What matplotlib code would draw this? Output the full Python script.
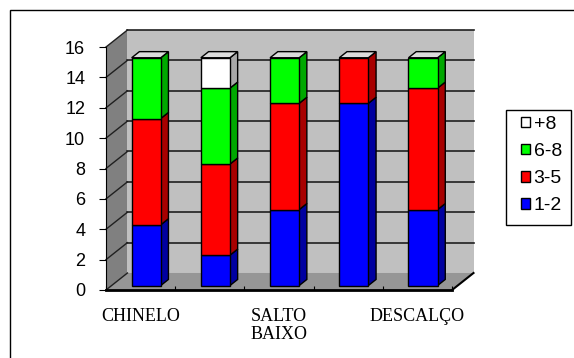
import matplotlib.pyplot as plt
from matplotlib.patches import Polygon, Rectangle, Patch

categories = ["CHINELO", "", "SALTO\nBAIXO", "", "DESCALÇO"]
series_names = ["1-2", "3-5", "6-8", "+8"]
v_1_2 = [4, 2, 5, 12, 5]
v_3_5 = [7, 6, 7, 3, 8]
v_6_8 = [4, 5, 3, 0, 2]
v_8p = [0, 2, 0, 0, 0]
yticks = list(range(0, 17, 2))

front_colors = ["#0000ff", "#ff0000", "#00ff00", "#ffffff"]
side_colors = ["#0000a0", "#a80000", "#00a800", "#a8a8a8"]
top_color = "#dcdcdc"

# fake 3d: depth offset in data units
DX, DY = 0.31, 1.12
z0, z1 = 0.26, 0.62
bw = 0.42


def pt(x, y, z):
    return (x + z * DX, y + z * DY)


fig = plt.figure(figsize=(5.74, 3.58), dpi=100)
W, H = 574, 358
ax = fig.add_axes([106 / W, 68 / H, (473.5 - 106) / W, (290 - 30) / H])
ax.patch.set_visible(False)
n = len(categories)
ymax = yticks[-1]
ax.set_xlim(-0.5, n - 0.5 + DX)
ax.set_ylim(0, ymax + DY)

x0, x1 = -0.5, n - 0.5
# walls and floor
ax.add_patch(Polygon([pt(x0, 0, 0), pt(x0, 0, 1), pt(x0, ymax, 1), pt(x0, ymax, 0)],
                     closed=True, fc="#808080", ec="none", zorder=0.5))
ax.add_patch(Polygon([pt(x0, 0, 1), pt(x1, 0, 1), pt(x1, ymax, 1), pt(x0, ymax, 1)],
                     closed=True, fc="#c0c0c0", ec="none", zorder=0.5))
ax.add_patch(Polygon([pt(x0, 0, 0), pt(x1, 0, 0), pt(x1, 0, 1), pt(x0, 0, 1)],
                     closed=True, fc="#969696", ec="none", zorder=0.6))
a, b = pt(x1, 0, 0), pt(x1, 0, 1)
ax.plot([a[0], b[0]], [a[1], b[1]], color="black", lw=1.5, zorder=0.7, clip_on=False)

for v in yticks:
    p, q = pt(x0, v, 0), pt(x0, v, 1)
    ax.plot([p[0], q[0]], [p[1], q[1]], color="#202020", lw=1, zorder=0.8, clip_on=False)
    if v > 0:
        p, q = pt(x0, v, 1), pt(x1, v, 1)
        ax.plot([p[0], q[0]], [p[1], q[1]], color="#202020", lw=1.2, zorder=0.8, clip_on=False)

# stacked bars
series = [v_1_2, v_3_5, v_6_8, v_8p]
for i in range(n):
    xl, xr = i - bw / 2, i + bw / 2
    base = 0
    total = sum(s[i] for s in series)
    for k, s in enumerate(series):
        h = s[i]
        if h == 0:
            continue
        y0, y1 = base, base + h
        ax.add_patch(Polygon([pt(xr, y0, z0), pt(xr, y0, z1), pt(xr, y1, z1), pt(xr, y1, z0)],
                             closed=True, fc=side_colors[k], ec="black", lw=1, zorder=3))
        ax.add_patch(Polygon([pt(xl, y0, z0), pt(xr, y0, z0), pt(xr, y1, z0), pt(xl, y1, z0)],
                             closed=True, fc=front_colors[k], ec="black", lw=1, zorder=3.2))
        if y1 == total:
            ax.add_patch(Polygon([pt(xl, y1, z0), pt(xr, y1, z0), pt(xr, y1, z1), pt(xl, y1, z1)],
                                 closed=True, fc=top_color, ec="black", lw=1, zorder=3.1))
        base = y1

# axes
ax.spines["top"].set_visible(False)
ax.spines["right"].set_visible(False)
ax.spines["left"].set_bounds(0, ymax)
ax.spines["left"].set_linewidth(0.8)
ax.spines["bottom"].set_bounds(x0, x1)
ax.spines["bottom"].set_linewidth(2)
ax.set_yticks(yticks)
ax.set_yticklabels([str(v) for v in yticks], fontsize=13, family="Liberation Sans")
ax.tick_params(axis="y", length=5, width=0.8, pad=10)
ax.set_xticks(range(n))
ax.set_xticklabels(categories, fontsize=13, family="Liberation Serif", linespacing=1.1)
ax.set_xticks([i + 0.5 for i in range(-1, n)], minor=True)
ax.tick_params(axis="x", which="major", length=0, pad=13)
ax.tick_params(axis="x", which="minor", length=3, direction="in", width=0.8)

# outer frame
fig.patches.append(Rectangle((10 / W, -0.2), 1.2, 1 - 10 / H + 0.2, transform=fig.transFigure,
                             fill=False, ec="black", lw=1))

# legend
fig.patches.append(Rectangle((506 / W, 1 - 225 / H), 65 / W, 115 / H, transform=fig.transFigure,
                             fill=False, ec="black", lw=1))
handles = [Patch(fc=front_colors[k], ec="black", lw=1) for k in range(3, -1, -1)]
labels = [series_names[k] for k in range(3, -1, -1)]
fig.legend(handles, labels, loc="upper left", bbox_to_anchor=(521 / W, 1 - 116 / H),
           frameon=False, prop={"family": "Liberation Sans", "size": 14},
           handlelength=0.45, handleheight=0.45, handletextpad=0.2, labelspacing=0.52,
           borderpad=0, borderaxespad=0)

fig.savefig("out.png", dpi=100)
